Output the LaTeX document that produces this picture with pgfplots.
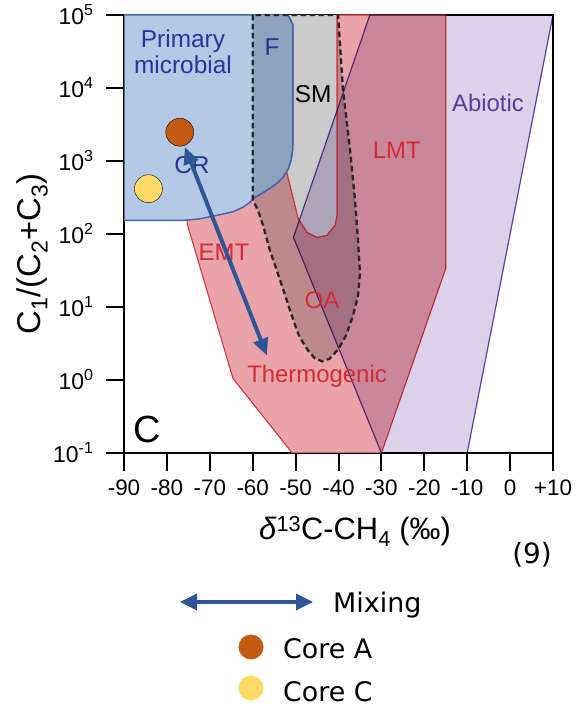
\documentclass[border=0pt]{standalone}
\usepackage{fontspec}
\setmainfont{Liberation Sans}
\newfontfamily\legfont{DejaVu Sans}
\usepackage{pgfplots}
\pgfplotsset{compat=1.18}
\usetikzlibrary{arrows.meta}
\definecolor{pmblue}{HTML}{B4C9E6}
\definecolor{pmedge}{HTML}{4565AE}
\definecolor{fblue}{HTML}{8DA2BD}
\definecolor{smgray}{HTML}{CACACA}
\definecolor{thpink}{HTML}{EAA4A9}
\definecolor{thedge}{HTML}{D5333D}
\definecolor{ablav}{HTML}{DDD1EA}
\definecolor{abedge}{HTML}{6547A8}
\definecolor{oafill}{HTML}{D0D6D6}
\definecolor{lblblue}{HTML}{27359A}
\definecolor{lblred}{HTML}{D22B35}
\definecolor{lblpurple}{HTML}{5B3A9E}
\definecolor{arrowblue}{HTML}{2F5597}
\definecolor{coreA}{HTML}{C55A11}
\definecolor{coreC}{HTML}{FFD966}
\begin{document}
\begin{tikzpicture}[x=1bp,y=1bp]
\path (0,0) rectangle (573,710);
\begin{axis}[
  at={(124bp,257bp)}, anchor=south west,
  scale only axis, width=429bp, height=438bp,
  xmin=-90, xmax=10, ymin=0.1, ymax=1e5, ymode=log,
  axis line style={line width=2bp},
  tick pos=left, tick align=outside,
  major tick length=18bp,
  yminorticks=false, xminorticks=false,
  tick style={line width=2bp, black},
  xtick={-90,-80,-70,-60,-50,-40,-30,-20,-10,0,10},
  xticklabels={-90,-80,-70,-60,-50,-40,-30,-20,-10,0,+10},
  ytick={0.1,1,10,100,1000,10000,100000},
  yticklabels={10\textsuperscript{-1},10\textsuperscript{0},10\textsuperscript{1},10\textsuperscript{2},10\textsuperscript{3},10\textsuperscript{4},10\textsuperscript{5}},
  xticklabel style={font=\fontsize{22.5}{26}\selectfont, yshift=-5bp},
  yticklabel style={font=\fontsize{23}{26}\selectfont, xshift=-9bp},
]
% thermogenic (EMT + LMT)
\addplot[draw=thedge, line width=1.1bp, fill=thpink] coordinates {(-40.35,1e5) (-15,1e5) (-15,33.8) (-30,0.1) (-50.8,0.1) (-64.6,1.05) (-75.3,140) (-75.3,200) (-53,900) (-52,680) (-49.4,164) (-47.3,105) (-45,90) (-42.7,96) (-40.8,132) (-40.35,181)} -- cycle;
% OA fill
\addplot[draw=none, fill=oafill, blend mode=multiply] coordinates {(-60,1e5) (-60,300) (-58.8,211) (-57.6,132) (-56.0,59.7) (-53.6,23.2) (-51.3,9.0) (-49.7,4.78) (-49.0,3.83) (-47.1,2.54) (-45.5,1.97) (-43.8,1.80) (-42.0,1.97) (-40.1,2.62) (-38.25,4.07) (-36.6,7.67) (-35.45,14.4) (-35.0,28.9) (-35.45,82) (-36.15,290) (-37.3,1406) (-38.95,9360) (-40.1,1e5)} -- cycle;
% SM
\addplot[draw=none, fill=smgray] coordinates {(-53,1e5) (-40.35,1e5) (-40.35,181) (-40.8,132) (-42.7,96) (-45,90) (-47.3,105) (-49.4,164) (-52,680) (-53,900)} -- cycle;
\addplot[draw=thedge, line width=1.1bp] coordinates {(-53,900) (-52,680) (-49.4,164) (-47.3,105) (-45,90) (-42.7,96) (-40.8,132) (-40.35,181) (-40.35,1e5)};
% Abiotic
\addplot[draw=abedge, line width=1.2bp, fill=ablav, blend mode=multiply] coordinates {(-32.7,1e5) (10,1e5) (-10,0.1) (-30,0.1) (-50.5,90)} -- cycle;
% Primary microbial
\addplot[draw=pmedge, line width=1.5bp, fill=pmblue] coordinates {(-90,1e5) (-90,154) (-75.78,154) (-72.28,161.6) (-68.79,177.8) (-64.59,201.6) (-62.26,232.4) (-60.63,272.2) (-59.46,318.7) (-57.83,361.6) (-55.97,423.6) (-54.34,496.1) (-52.94,599.6) (-51.77,771.9) (-51.07,1025) (-50.72,1406) (-50.61,1928) (-50.61,72900) (-51.8,1e5)} -- cycle;
% F
\addplot[draw=none, fill=fblue] coordinates {(-60,1e5) (-60,299) (-59.46,318.7) (-57.83,361.6) (-55.97,423.6) (-54.34,496.1) (-52.94,599.6) (-51.77,771.9) (-51.07,1025) (-50.72,1406) (-50.61,1928) (-50.61,72900) (-51.8,1e5)} -- cycle;
\addplot[draw=pmedge, line width=1.5bp] coordinates {(-60,299) (-59.46,318.7) (-57.83,361.6) (-55.97,423.6) (-54.34,496.1) (-52.94,599.6) (-51.77,771.9) (-51.07,1025) (-50.72,1406) (-50.61,1928) (-50.61,72900) (-51.8,1e5)};
% OA outline
\addplot[draw=black!85, line width=2.3bp, dash pattern=on 5.5bp off 3.5bp] coordinates {(-60,1e5) (-60,300) (-58.8,211) (-57.6,132) (-56.0,59.7) (-53.6,23.2) (-51.3,9.0) (-49.7,4.78) (-49.0,3.83) (-47.1,2.54) (-45.5,1.97) (-43.8,1.80) (-42.0,1.97) (-40.1,2.62) (-38.25,4.07) (-36.6,7.67) (-35.45,14.4) (-35.0,28.9) (-35.45,82) (-36.15,290) (-37.3,1406) (-38.95,9360) (-40.1,1e5)} -- cycle;
% labels
\node[anchor=base, text=lblblue, font=\fontsize{24.5}{28}\selectfont] at (axis cs:-76.25,36400) {Primary};
\node[anchor=base, text=lblblue, font=\fontsize{24.5}{28}\selectfont] at (axis cs:-76.25,16000) {microbial};
\node[anchor=base, text=lblblue, font=\fontsize{24.5}{28}\selectfont] at (axis cs:-55.5,28250) {F};
\node[anchor=base, text=black, font=\fontsize{24.5}{28}\selectfont] at (axis cs:-45.9,6410) {SM};
\node[anchor=base, text=lblblue, font=\fontsize{24.5}{28}\selectfont] at (axis cs:-74.15,681) {CR};
\node[anchor=base, text=lblpurple, font=\fontsize{24}{28}\selectfont] at (axis cs:-5.15,4820) {Abiotic};
\node[anchor=base, text=lblred, font=\fontsize{24}{28}\selectfont] at (axis cs:-26.4,1092) {LMT};
\node[anchor=base, text=lblred, font=\fontsize{24}{28}\selectfont] at (axis cs:-66.7,43.5) {EMT};
\node[anchor=base, text=lblred, font=\fontsize{24}{28}\selectfont] at (axis cs:-43.85,9.57) {OA};
\node[anchor=base, text=lblred, font=\fontsize{24}{28}\selectfont] at (axis cs:-45.0,0.925) {Thermogenic};
\node[anchor=base, text=black, font=\fontsize{38}{40}\selectfont] at (axis cs:-84.6,0.139) {C};
% data
\addplot[only marks, mark=*, mark size=14bp, mark options={draw=none, fill=coreA}] coordinates {(-77,2480)};
\addplot[only marks, mark=*, mark size=14bp, mark options={draw=none, fill=coreC}] coordinates {(-84.3,417)};
\addplot[arrowblue, line width=4bp, {Triangle[length=17bp,width=15bp]}-{Triangle[length=17bp,width=15bp]}] coordinates {(-75.8,1549) (-56.7,2.17)};
\end{axis}
% axis labels
\node[anchor=base, font=\fontsize{31}{34}\selectfont] at (355,170) {\textit{δ}\textsuperscript{13}C-CH\textsubscript{4} (‰)};
\node[rotate=90, font=\fontsize{33}{36}\selectfont] at (32,456) {C\textsubscript{1}/(C\textsubscript{2}+C\textsubscript{3})};
\node[font=\legfont\fontsize{28}{32}\selectfont] at (532,155) {(9)};
% legend
\draw[arrowblue, line width=3.5bp, {Triangle[length=17bp,width=16bp]}-{Triangle[length=17bp,width=16bp]}] (180,108) -- (313,108);
\node[anchor=base west, inner sep=0pt, font=\legfont\fontsize{27}{32}\selectfont] at (333,97) {Mixing};
\fill[coreA] (251,63) circle (12.5);
\node[anchor=base west, inner sep=0pt, font=\legfont\fontsize{27}{32}\selectfont] at (283,51) {Core A};
\fill[coreC] (251,22) circle (12.5);
\node[anchor=base west, inner sep=0pt, font=\legfont\fontsize{27}{32}\selectfont] at (283,8) {Core C};
\end{tikzpicture}
\end{document}
